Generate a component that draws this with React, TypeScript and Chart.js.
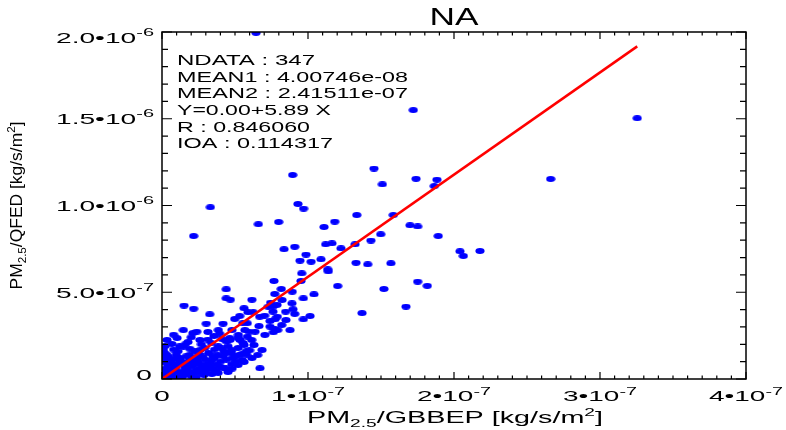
import React, { useEffect, useRef } from "react";
import { Chart, registerables } from "chart.js";

Chart.register(...registerables);

// ---- data (units: 1e-9 kg/s/m2) ----
const xNano = [
  64.4, 172.1, 325.5, 145.2, 150.9, 174.0, 188.3, 186.5, 266.2, 89.5,
  93.1, 97.0, 33.1, 21.7, 66.0, 79.9, 133.4, 158.4, 118.3, 111.0,
  169.9, 175.1, 189.2, 149.8, 204.1, 206.4, 217.8, 143.1, 112.1, 116.4,
  132.2, 122.6, 83.6, 90.9, 98.6, 94.5, 102.1, 108.9, 132.9, 140.9,
  156.8, 113.5, 113.9, 95.7, 95.2, 120.3, 152.0, 175.1, 181.7, 96.8,
  104.1, 167.1, 137.0, 76.7, 81.7, 77.2, 89.2, 44.0, 44.0, 46.8,
  61.6, 15.1, 21.7, 32.7, 74.4, 78.8, 76.0, 89.0, 89.7, 56.2,
  58.9, 76.0, 84.7, 90.9, 53.2, 66.9, 70.3, 79.0, 49.8, 101.4,
  96.8, 77.4, 74.0, 55.3, 58.4, 59.6, 63.7, 56.8, 77.4, 76.2,
  58.4, 61.4, 56.2, 54.6, 65.5, 67.1, 82.0, 72.8, 62.5, 74.0,
  79.2, 52.3, 46.6, 53.4, 47.7, 40.9, 38.6, 23.8, 14.6, 30.3,
  41.8, 21.2, 39.5, 14.6, 1.8, 12.1, 9.8, 19.0, 22.4, 31.5,
  33.8, 29.2, 38.4, 44.0, 46.4, 52.1, 45.2, 52.1, 55.5, 57.7,
  47.5, 24.7, 34.9, 44.0, 50.9, 26.9, 19.0, 12.1, 7.5, 4.1,
  15.5, 23.5, 31.5, 37.2, 41.8, 11.0, 4.1, 1.8, 6.4, 13.2,
  19.0, 25.8, 20.1, 2.9, 8.7, 6.4, 16.6, 11.0, 4.1, 0.7,
  0.7, 2.1, 5.5, 9.6, 13.7, 23.3, 28.8, 34.2, 38.4, 45.2,
  15.8, 8.2, 20.5, 30.1, 38.4, 42.5, 26.0, 17.8, 6.8, 2.1,
  3.4, 10.3, 26.0, 35.6, 31.5, 41.1, 12.3, 21.9, 32.9, 47.9,
  56.2, 61.6, 68.5, 63.0, 47.9, 66.4, 70.5, 84.9, 87.7, 82.2,
  3.0, 9.0, 16.0, 0.5, 27.0, 35.0, 18.0, 10.0, 25.0, 8.0,
  1.0, 1.0, 3.0, 5.0, 7.0, 9.0, 12.0, 14.0, 17.0, 19.0,
  21.0, 23.0, 25.0, 28.0, 30.0, 32.0, 34.0, 36.0, 40.0, 42.0,
  44.0, 48.0, 50.0, 53.0, 4.0, 11.0, 15.0, 18.0, 22.0, 26.0,
  30.0, 33.0, 37.0, 40.0, 44.0, 48.0, 52.0, 55.0, 58.0, 16.0,
  20.0, 8.0, 27.0, 36.0, 60.0,
];
const yNano = [
  1995, 1550, 1503, 1213, 1122, 1154, 1149, 1112, 1153, 1176,
  1009, 982, 990, 824, 892, 905, 945, 945, 907, 876,
  886, 879, 824, 834, 736, 709, 738, 798, 776, 782,
  776, 753, 748, 762, 717, 682, 676, 690, 670, 661,
  667, 632, 620, 609, 565, 536, 519, 561, 537, 465,
  488, 417, 380, 565, 519, 490, 503, 517, 465, 457,
  457, 423, 405, 373, 440, 427, 417, 436, 402, 408,
  385, 388, 388, 375, 363, 359, 365, 359, 346, 363,
  344, 344, 334, 321, 321, 273, 273, 282, 287, 269,
  244, 225, 196, 144, 138, 62, 311, 417, 385, 302,
  282, 254, 225, 225, 167, 177, 282, 273, 282, 319,
  319, 265, 261, 186, 150, 189, 140, 175, 160, 227,
  208, 179, 189, 217, 236, 236, 189, 179, 208, 160,
  150, 121, 131, 111, 102, 82, 111, 102, 111, 82,
  73, 54, 63, 82, 63, 44, 44, 25, 16, 25,
  35, 35, 16, 63, 73, 92, 131, 160, 131, 98,
  52, 6, 5, 7, 12, 11, 23, 29, 35, 40,
  52, 46, 75, 110, 138, 161, 167, 213, 202, 190,
  225, 236, 225, 248, 271, 230, 121, 98, 86, 86,
  98, 121, 167, 196, 282, 305, 254, 340, 282, 455,
  35, 28, 30, 15, 48, 55, 90, 80, 145, 170,
  120, 170, 140, 110, 60, 120, 85, 100, 60, 140,
  120, 85, 100, 130, 80, 150, 105, 120, 100, 130,
  150, 120, 130, 140, 20, 20, 22, 45, 40, 60,
  45, 70, 50, 70, 62, 60, 80, 110, 140, 200,
  240, 255, 200, 170, 165,
];
const NANO = 1e-9;

const fitIntercept = 0.0;
const fitSlope = 5.89;

const titleText = "NA";
const statsLines = [
  "NDATA : 347",
  "MEAN1 : 4.00746e-08",
  "MEAN2 : 2.41511e-07",
  "Y=0.00+5.89 X",
  "R : 0.846060",
  "IOA : 0.114317",
];

const xTickValues = [0, 1e-7, 2e-7, 3e-7, 4e-7];
const xTickMain = ["0", "1•10", "2•10", "3•10", "4•10"];
const xTickExp = ["", "-7", "-7", "-7", "-7"];
const yTickValues = [0, 5e-7, 1e-6, 1.5e-6, 2e-6];
const yTickMain = ["0", "5.0•10", "1.0•10", "1.5•10", "2.0•10"];
const yTickExp = ["", "-7", "-6", "-6", "-6"];
const xMinorStep = 1e-8;
const xMinorPerMajor = 10;
const yMinorStep = 1e-7;
const yMinorPerMajor = 5;

const FONT = '"Liberation Sans", Arial, Helvetica, sans-serif';

type Seg = { t: string; size: number; dy: number };

function segsWidth(ctx: CanvasRenderingContext2D, segs: Seg[]) {
  let w = 0;
  for (const s of segs) {
    ctx.font = `${s.size}px ${FONT}`;
    w += ctx.measureText(s.t).width;
  }
  return w;
}

function drawSegs(
  ctx: CanvasRenderingContext2D,
  segs: Seg[],
  x: number,
  y: number,
  align: "left" | "center" | "right",
  sx: number
) {
  const w = segsWidth(ctx, segs) * sx;
  const start = align === "left" ? x : align === "right" ? x - w : x - w / 2;
  ctx.save();
  ctx.translate(start, y);
  ctx.scale(sx, 1);
  ctx.textAlign = "left";
  ctx.textBaseline = "alphabetic";
  let cx = 0;
  for (const s of segs) {
    ctx.font = `${s.size}px ${FONT}`;
    ctx.fillText(s.t, cx, s.dy);
    cx += ctx.measureText(s.t).width;
  }
  ctx.restore();
}

function makeDot(): HTMLCanvasElement {
  const c = document.createElement("canvas");
  c.width = 10;
  c.height = 6;
  const g = c.getContext("2d")!;
  g.fillStyle = "#0000ff";
  g.beginPath();
  g.ellipse(5, 3, 4.6, 2.9, 0, 0, Math.PI * 2);
  g.fill();
  return c;
}

const statsWidths = [138, 231, 231, 154, 133, 156];

const decorPlugin = {
  id: "idlDecor",
  afterDraw(chart: any) {
    const ctx: CanvasRenderingContext2D = chart.ctx;
    const { left, right, top, bottom } = chart.chartArea;
    const xs = chart.scales.x;
    const ys = chart.scales.y;
    ctx.save();
    ctx.strokeStyle = "#000";
    ctx.fillStyle = "#000";
    ctx.lineWidth = 1.5;
    ctx.strokeRect(left, top, right - left, bottom - top);

    // ticks
    ctx.lineWidth = 1.2;
    ctx.beginPath();
    const nx = Math.round(xs.max / xMinorStep);
    for (let i = 0; i <= nx; i++) {
      const px = xs.getPixelForValue(i * xMinorStep);
      const len = i % xMinorPerMajor === 0 ? 7 : 3.5;
      ctx.moveTo(px, bottom);
      ctx.lineTo(px, bottom - len);
      ctx.moveTo(px, top);
      ctx.lineTo(px, top + len);
    }
    const ny = Math.round(ys.max / yMinorStep);
    for (let i = 0; i <= ny; i++) {
      const py = ys.getPixelForValue(i * yMinorStep);
      const len = i % yMinorPerMajor === 0 ? 10 : 6;
      ctx.moveTo(left, py);
      ctx.lineTo(left + len, py);
      ctx.moveTo(right, py);
      ctx.lineTo(right - len, py);
    }
    ctx.stroke();

    // x tick labels
    const xRef: Seg[] = [{ t: xTickMain[1], size: 15.5, dy: 0 }, { t: xTickExp[1], size: 11, dy: -6 }];
    const xsx = 74 / segsWidth(ctx, xRef);
    xTickValues.forEach((v, i) => {
      const px = xs.getPixelForValue(v);
      const segs: Seg[] = [{ t: xTickMain[i], size: 15.5, dy: 0 }];
      if (xTickExp[i]) segs.push({ t: xTickExp[i], size: 11, dy: -6 });
      drawSegs(ctx, segs, px, bottom + 22, "center", xsx);
    });

    // y tick labels
    const yRef: Seg[] = [{ t: yTickMain[4], size: 15.5, dy: 0 }, { t: yTickExp[4], size: 11, dy: -7 }];
    const ysx = 98 / segsWidth(ctx, yRef);
    yTickValues.forEach((v, i) => {
      let py = ys.getPixelForValue(v);
      if (i === 0) py -= 5;
      if (i === yTickValues.length - 1) py += 5;
      const segs: Seg[] = [{ t: yTickMain[i], size: 15.5, dy: 0 }];
      if (yTickExp[i]) segs.push({ t: yTickExp[i], size: 11, dy: -7 });
      drawSegs(ctx, segs, i === 0 ? left - 10 : left - 8, py + 5.5, "right", ysx);
    });

    // title
    const tSegs: Seg[] = [{ t: titleText, size: 23.5, dy: 0 }];
    drawSegs(ctx, tSegs, (left + right) / 2, 24.5, "center", 49 / segsWidth(ctx, tSegs));

    // stats text
    statsLines.forEach((s, i) => {
      const segs: Seg[] = [{ t: s, size: 14, dy: 0 }];
      drawSegs(ctx, segs, left + 15, 65 + i * 16.67, "left", statsWidths[i] / segsWidth(ctx, segs));
    });

    // x axis title
    const xSegs: Seg[] = [
      { t: "PM", size: 16.5, dy: 0 },
      { t: "2.5", size: 11, dy: 4 },
      { t: "/GBBEP [kg/s/m", size: 16.5, dy: 0 },
      { t: "2", size: 11, dy: -7 },
      { t: "]", size: 16.5, dy: 0 },
    ];
    drawSegs(ctx, xSegs, (left + right) / 2 + 1, bottom + 44, "center", 296 / segsWidth(ctx, xSegs));

    // y axis title
    const ySegs: Seg[] = [
      { t: "PM", size: 16.5, dy: 0 },
      { t: "2.5", size: 11, dy: 4 },
      { t: "/QFED [kg/s/m", size: 16.5, dy: 0 },
      { t: "2", size: 11, dy: -7 },
      { t: "]", size: 16.5, dy: 0 },
    ];
    ctx.save();
    ctx.translate(21.7, (top + bottom) / 2);
    ctx.rotate(-Math.PI / 2);
    drawSegs(ctx, ySegs, 0, 0, "center", 168 / segsWidth(ctx, ySegs));
    ctx.restore();

    ctx.restore();
  },
};

export default function App() {
  const ref = useRef<HTMLCanvasElement | null>(null);

  useEffect(() => {
    if (!ref.current) return;
    const points = xNano.map((x, i) => ({ x: x * NANO, y: yNano[i] * NANO }));
    const xHi = Math.max(...xNano) * NANO;
    const fitLine = [
      { x: 0, y: fitIntercept },
      { x: xHi, y: fitIntercept + fitSlope * xHi },
    ];
    const dot = makeDot();
    const chart = new Chart(ref.current, {
      type: "scatter",
      data: {
        datasets: [
          {
            type: "line",
            data: fitLine,
            borderColor: "#ff0000",
            borderWidth: 2.5,
            pointRadius: 0,
            fill: false,
            tension: 0,
          } as any,
          {
            type: "scatter",
            data: points,
            pointStyle: dot as any,
            pointRadius: 4,
            backgroundColor: "#0000ff",
            borderWidth: 0,
          } as any,
        ],
      },
      options: {
        responsive: false,
        animation: false,
        events: [],
        layout: { padding: { top: 32, right: 40, left: 0, bottom: 0 } },
        plugins: {
          legend: { display: false },
          tooltip: { enabled: false },
          title: { display: false },
        },
        scales: {
          x: {
            type: "linear",
            min: 0,
            max: 4e-7,
            grid: { display: false },
            border: { display: false },
            ticks: { display: false },
            afterFit: (s: any) => {
              s.height = 51;
            },
          },
          y: {
            type: "linear",
            min: 0,
            max: 2e-6,
            grid: { display: false },
            border: { display: false },
            ticks: { display: false },
            afterFit: (s: any) => {
              s.width = 162;
            },
          },
        },
      } as any,
      plugins: [decorPlugin],
    });
    return () => chart.destroy();
  }, []);

  return (
    <div style={{ position: "fixed", left: 0, top: 0, width: 786, height: 430, background: "#fff" }}>
      <canvas ref={ref} width={786} height={430} style={{ width: 786, height: 430, display: "block" }} />
    </div>
  );
}
